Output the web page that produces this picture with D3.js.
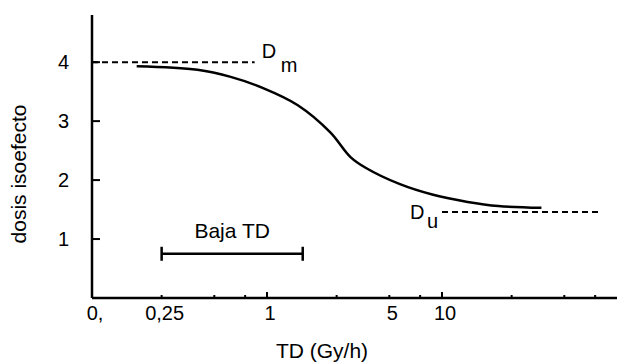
<!DOCTYPE html>
<html>
<head>
<meta charset="utf-8">
<script src="https://cdn.jsdelivr.net/npm/d3@7/dist/d3.min.js"></script>
<style>
  body { margin: 0; background: #fff; }
  svg { display: block; font-family: "Liberation Sans", Arial, sans-serif; }
</style>
</head>
<body>
<svg id="chart" width="617" height="362"></svg>
<script>
// curva de dosis isoefecto vs tasa de dosis
const tdValues   = [0.18, 0.4, 0.62, 0.95, 1.5, 2.3, 3.0, 3.7, 5.75, 8.9, 14, 21, 37];
const doseValues = [3.93, 3.87, 3.75, 3.56, 3.27, 2.81, 2.39, 2.2, 1.93, 1.75, 1.63, 1.56, 1.53];

const xTickMajor  = [0.1, 0.25, 1, 5, 10];
const xTickLabels = ["0,", "0,25", "1", "5", "10"];
const xTickMinor  = [0.5, 0.75, 2.5, 7.5, 25, 50, 75];
const yTicks      = [1, 2, 3, 4];

const dmLine  = { from: 0.1, to: 0.85, dose: 4 };
const duLine  = { from: 10, to: 78, dose: 1.46 };
const bajaTD  = { from: 0.25, to: 1.6, dose: 0.75 };

const svg = d3.select("#chart");

const x = d3.scaleLog().domain([0.1, 100]).range([92, 617]);
const y = d3.scaleLinear().domain([0, 4.8]).range([298, 15]);

// ejes
svg.append("line")
    .attr("x1", x(0.1)).attr("x2", x(0.1))
    .attr("y1", y(0)).attr("y2", y(4.8))
    .attr("stroke", "#000").attr("stroke-width", 2.5);
svg.append("line")
    .attr("x1", x(0.1)).attr("x2", x(100))
    .attr("y1", y(0)).attr("y2", y(0))
    .attr("stroke", "#000").attr("stroke-width", 2.5);

// ticks eje y (hacia dentro)
svg.selectAll(".ytick").data(yTicks).enter().append("line")
    .attr("x1", x(0.1)).attr("x2", x(0.1) + 8)
    .attr("y1", d => y(d)).attr("y2", d => y(d))
    .attr("stroke", "#000").attr("stroke-width", 2);
svg.selectAll(".ylab").data(yTicks).enter().append("text")
    .attr("x", x(0.1) - 23).attr("y", d => y(d)).attr("dy", "0.35em")
    .attr("text-anchor", "end").attr("font-size", 20)
    .text(d => d);

// ticks eje x
const bigTicks = [1, 10];
svg.selectAll(".xtick").data(xTickMajor.slice(1).concat(xTickMinor)).enter().append("line")
    .attr("x1", d => x(d)).attr("x2", d => x(d))
    .attr("y1", y(0)).attr("y2", d => y(0) - (bigTicks.includes(d) ? 6 : 3))
    .attr("stroke", "#000").attr("stroke-width", 2);
svg.selectAll(".xlab").data(xTickMajor).enter().append("text")
    .attr("x", d => x(d) + 3).attr("y", 320)
    .attr("text-anchor", "middle").attr("font-size", 20)
    .text((d, i) => xTickLabels[i]);

// titulos
svg.append("text")
    .attr("x", 322).attr("y", 358)
    .attr("text-anchor", "middle").attr("font-size", 21)
    .text("TD (Gy/h)");
svg.append("text")
    .attr("transform", "translate(26,174) rotate(-90)")
    .attr("text-anchor", "middle").attr("font-size", 21)
    .text("dosis isoefecto");

// lineas discontinuas
[dmLine, duLine].forEach(l => {
    svg.append("line")
        .attr("x1", x(l.from)).attr("x2", x(l.to))
        .attr("y1", y(l.dose)).attr("y2", y(l.dose))
        .attr("stroke", "#000").attr("stroke-width", 2)
        .attr("stroke-dasharray", "6,4");
});

// etiquetas Dm / Du
svg.append("text").attr("x", x(dmLine.to) + 7).attr("y", y(dmLine.dose) - 4)
    .attr("font-size", 20).text("D");
svg.append("text").attr("x", x(dmLine.to) + 26).attr("y", y(dmLine.dose) + 10)
    .attr("font-size", 20).text("m");
svg.append("text").attr("x", x(duLine.from) - 32).attr("y", y(duLine.dose) + 7)
    .attr("font-size", 20).text("D");
svg.append("text").attr("x", x(duLine.from) - 15).attr("y", y(duLine.dose) + 16)
    .attr("font-size", 20).text("u");

// curva
const pts = tdValues.map((t, i) => [t, doseValues[i]]);
svg.append("path").datum(pts)
    .attr("fill", "none").attr("stroke", "#000").attr("stroke-width", 2.5)
    .attr("d", d3.line().x(d => x(d[0])).y(d => y(d[1])).curve(d3.curveCatmullRom.alpha(0.5)));

// barra baja TD
const by = y(bajaTD.dose);
svg.append("line")
    .attr("x1", x(bajaTD.from)).attr("x2", x(bajaTD.to))
    .attr("y1", by).attr("y2", by)
    .attr("stroke", "#000").attr("stroke-width", 2.5);
[bajaTD.from, bajaTD.to].forEach(v => {
    svg.append("line")
        .attr("x1", x(v)).attr("x2", x(v))
        .attr("y1", by - 7).attr("y2", by + 7)
        .attr("stroke", "#000").attr("stroke-width", 2.5);
});
svg.append("text")
    .attr("x", (x(bajaTD.from) + x(bajaTD.to)) / 2).attr("y", 238)
    .attr("text-anchor", "middle").attr("font-size", 21)
    .text("Baja TD");
</script>
</body>
</html>
